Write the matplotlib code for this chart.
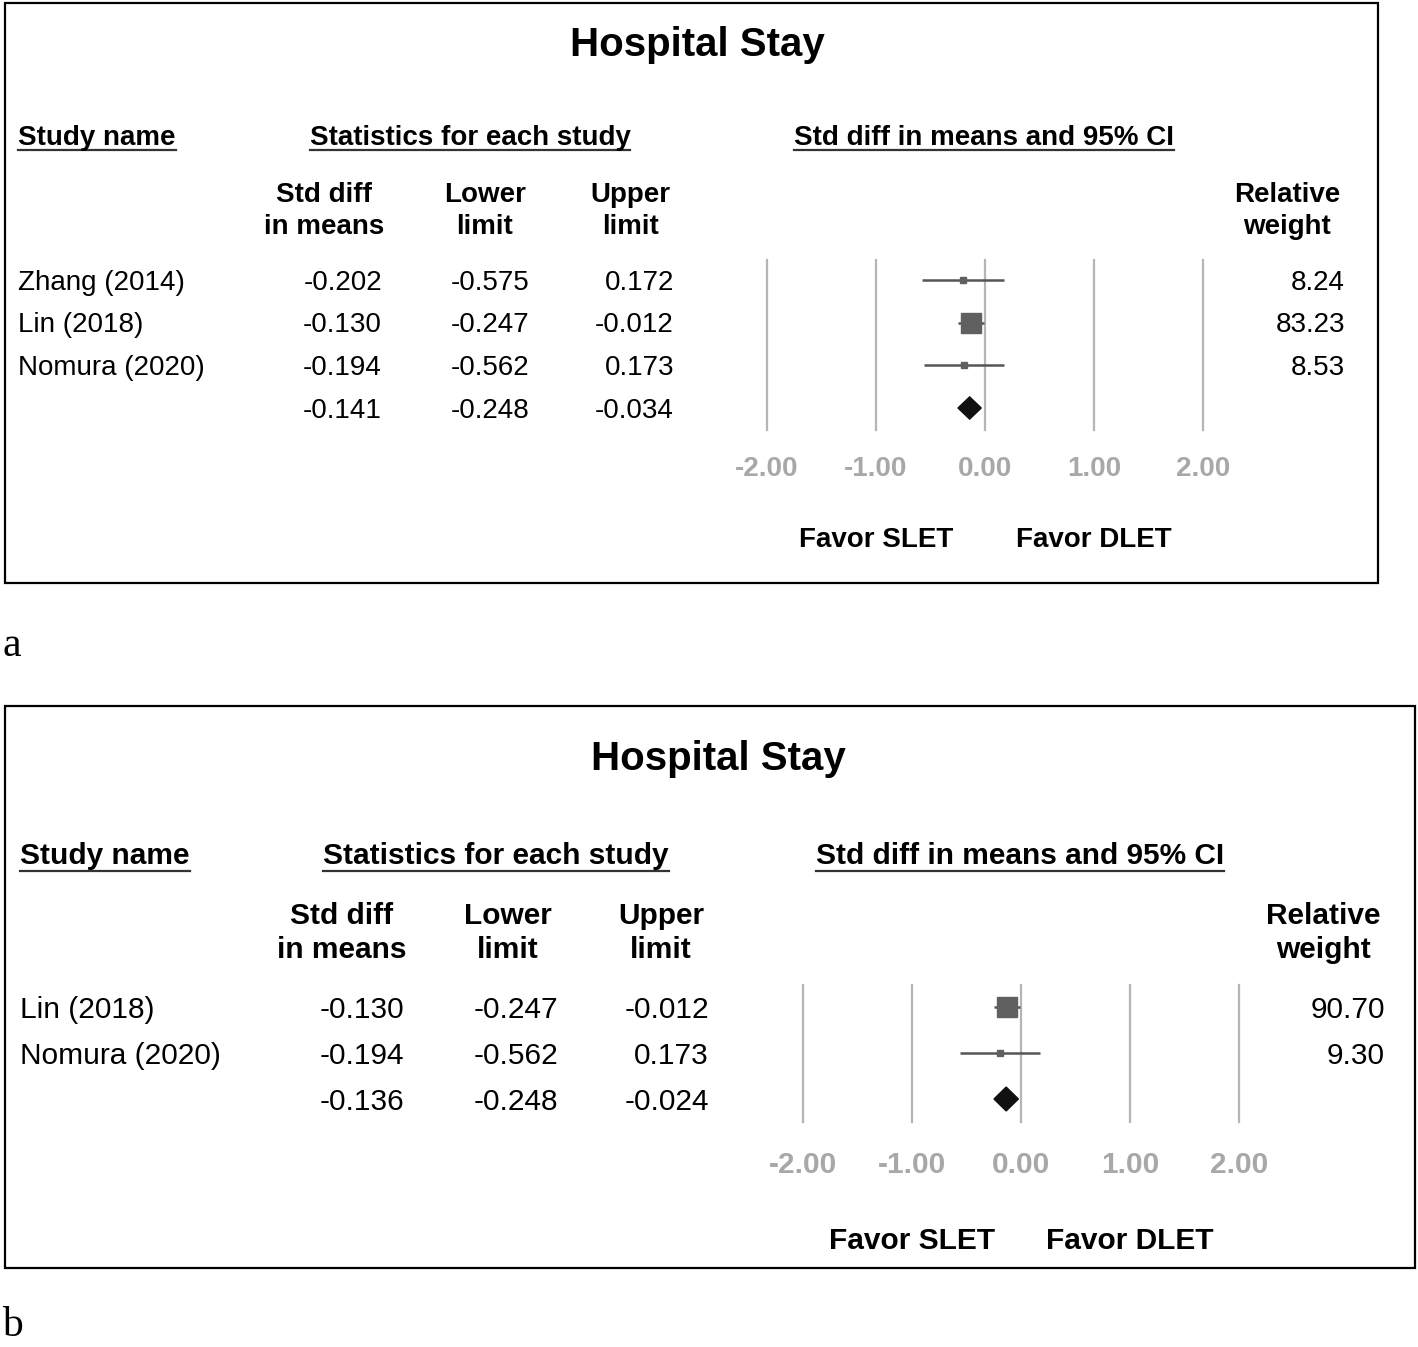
import numpy as np
import matplotlib
matplotlib.use("Agg")
from matplotlib import pyplot as plt
from matplotlib.patches import Rectangle, Polygon

plt.rcParams['font.family'] = ['Liberation Sans', 'DejaVu Sans']

W, H = 1418, 1347

# ---- data: panel a ----
studies_a = ["Zhang (2014)", "Lin (2018)", "Nomura (2020)"]
est_a = [-0.202, -0.130, -0.194]
low_a = [-0.575, -0.247, -0.562]
up_a = [0.172, -0.012, 0.173]
weight_a = [8.24, 83.23, 8.53]
summary_a = [-0.141, -0.248, -0.034]

# ---- data: panel b ----
studies_b = ["Lin (2018)", "Nomura (2020)"]
est_b = [-0.130, -0.194]
low_b = [-0.247, -0.562]
up_b = [-0.012, 0.173]
weight_b = [90.70, 9.30]
summary_b = [-0.136, -0.248, -0.024]

ticks = [-2, -1, 0, 1, 2]
title = "Hospital Stay"

fig = plt.figure(figsize=(W / 100, H / 100), dpi=100)
bg = fig.add_axes([0, 0, 1, 1])
bg.set_xlim(0, W)
bg.set_ylim(H, 0)
bg.axis('off')

underline_jobs = []


def txt(x, y, s, **kw):
    # va='center' sits a few px high for this font, nudge down
    kw.setdefault('va', 'center')
    return bg.text(x, y + 3, s, **kw)


def panel(studies, est, low, up, weight, summary, L):
    fs = L['fs']
    bg.add_patch(Rectangle((L['box'][0], L['box'][1]), L['box'][2] - L['box'][0],
                           L['box'][3] - L['box'][1], fill=False, lw=1.6, ec='black'))
    txt(L['title_x'], L['title_y'], title, fontsize=29, fontweight='bold', ha='center')
    hy = L['head_y']
    t1 = txt(L['name_x'], hy, "Study name", fontsize=fs, fontweight='bold', ha='left')
    t2 = txt(L['stats_x'], hy, "Statistics for each study", fontsize=fs, fontweight='bold', ha='center')
    t3 = txt(L['ci_x'], hy, "Std diff in means and 95% CI", fontsize=fs, fontweight='bold', ha='center')
    for t in (t1, t2, t3):
        underline_jobs.append((t, L['ul_y']))

    heads = [("Std diff", "in means"), ("Lower", "limit"), ("Upper", "limit"), ("Relative", "weight")]
    for (a, b), cx in zip(heads, L['col_head_x']):
        txt(cx, L['ch_y'][0], a, fontsize=fs, fontweight='bold', ha='center')
        txt(cx, L['ch_y'][1], b, fontsize=fs, fontweight='bold', ha='center')

    rows = L['rows']
    for i, name in enumerate(studies):
        y = rows[i]
        txt(L['name_x'], y, name, fontsize=fs, ha='left')
        for v, rx in zip((est[i], low[i], up[i]), L['val_x']):
            txt(rx, y, "%.3f" % v, fontsize=fs, ha='right')
        txt(L['w_x'], y, "%.2f" % weight[i], fontsize=fs, ha='right')
    ys = rows[len(studies)]
    for v, rx in zip(summary, L['val_x']):
        txt(rx, ys, "%.3f" % v, fontsize=fs, ha='right')

    # forest plot axes
    x0, x1 = L['fx']
    y0, y1 = L['fy']
    ax = fig.add_axes([x0 / W, 1 - y1 / H, (x1 - x0) / W, (y1 - y0) / H])
    ax.set_xlim(-2, 2)
    step = L['step']
    n = len(studies) + 1
    ax.set_ylim((y1 - rows[-1]) / step + n - 1, -(rows[0] - y0) / step)
    ax.axis('off')
    for t in ticks:
        ax.axvline(t, color='#b5b5b5', lw=1.6, clip_on=False)
    for i in range(len(studies)):
        ax.plot([low[i], up[i]], [i, i], color='#555555', lw=1.8, solid_capstyle='butt')
        ax.plot(est[i], i, marker='s', color='#606060', ms=1.58 * np.sqrt(weight[i]),
                mec='#606060', zorder=3)
    e, lo, hi = summary
    k = len(studies)
    h = L['dh']
    ax.add_patch(Polygon([[lo, k], [e, k - h], [hi, k], [e, k + h]], closed=True,
                         fc='#111111', ec='#111111', zorder=3))
    # tick labels and favour labels under the plot
    for t in ticks:
        px = x0 + (t + 2) / 4 * (x1 - x0)
        txt(px, L['tick_y'], "%.2f" % t, fontsize=fs, fontweight='bold', color='#a8a8a8', ha='center')
    for t, lab in ((-1, "Favor SLET"), (1, "Favor DLET")):
        px = x0 + (t + 2) / 4 * (x1 - x0)
        txt(px, L['fav_y'], lab, fontsize=fs, fontweight='bold', ha='center')
    txt(L['tag'][0], L['tag'][1], L['tag'][2], fontsize=30, family='Liberation Serif', ha='left')


layout_a = dict(fs=20, box=(5, 3, 1378, 583), title_x=697, title_y=42,
                head_y=135, ul_y=150, name_x=18, stats_x=470, ci_x=984,
                col_head_x=(324, 485, 630, 1287), ch_y=(192, 224),
                rows=[280, 322, 365, 408], val_x=(382, 529, 674), w_x=1345,
                fx=(767, 1203), fy=(260, 430), step=42.67, dh=0.26,
                tick_y=466, fav_y=537, tag=(2, 643, "a"))

layout_b = dict(fs=21.5, box=(5, 706, 1415, 1268), title_x=718, title_y=756,
                head_y=853, ul_y=871, name_x=20, stats_x=496, ci_x=1020,
                col_head_x=(342, 508, 661, 1323), ch_y=(913, 947),
                rows=[1007, 1053, 1099], val_x=(404, 558, 709), w_x=1385,
                fx=(803, 1239), fy=(985, 1122), step=46, dh=0.26,
                tick_y=1162, fav_y=1238, tag=(2, 1323, "b"))

panel(studies_a, est_a, low_a, up_a, weight_a, summary_a, layout_a)
panel(studies_b, est_b, low_b, up_b, weight_b, summary_b, layout_b)

# underline the section headers using their rendered widths
fig.canvas.draw()
r = fig.canvas.get_renderer()
inv = bg.transData.inverted()
for t, uy in underline_jobs:
    bb = t.get_window_extent(renderer=r)
    (xa, _), (xb, _) = inv.transform([[bb.x0, bb.y0], [bb.x1, bb.y1]])
    bg.plot([xa, xb], [uy, uy], color='#333333', lw=1.6)

fig.savefig("out.png", dpi=100)
